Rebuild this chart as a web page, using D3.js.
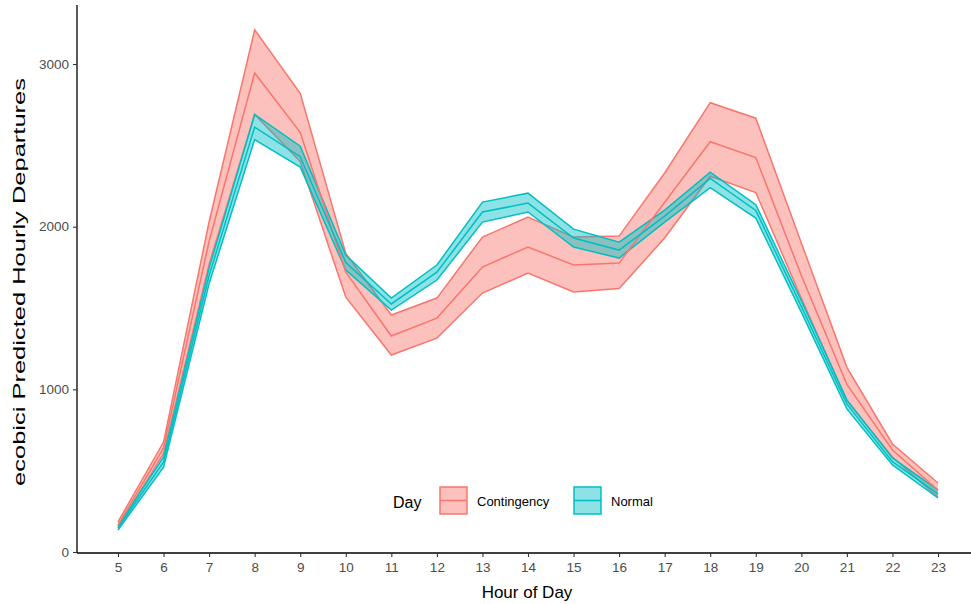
<!DOCTYPE html>
<html>
<head>
<meta charset="utf-8">
<script src="https://cdn.jsdelivr.net/npm/d3@7"></script>
<style>
  body { margin: 0; background: #fff; }
  text { font-family: "Liberation Sans", Arial, sans-serif; }
</style>
</head>
<body>
<div id="chart"></div>
<script>
var hours = [5, 6, 7, 8, 9, 10, 11, 12, 13, 14, 15, 16, 17, 18, 19, 20, 21, 22, 23];

var contLow  = [150, 605, 1770, 2690, 2400, 1567, 1211, 1315, 1592, 1715, 1598, 1620, 1930, 2310, 2210, 1560, 930, 584, 335];
var contMid  = [165, 640, 1910, 2945, 2580, 1720, 1328, 1438, 1752, 1875, 1764, 1776, 2150, 2522, 2425, 1700, 1030, 627, 380];
var contHigh = [185, 676, 2030, 3210, 2820, 1835, 1457, 1561, 1936, 2059, 1936, 1942, 2330, 2762, 2667, 1900, 1135, 664, 424];

var normLow  = [135, 522, 1650, 2535, 2366, 1733, 1487, 1672, 2028, 2090, 1875, 1807, 2028, 2240, 2053, 1475, 880, 535, 332];
var normMid  = [148, 553, 1700, 2612, 2430, 1780, 1525, 1720, 2090, 2145, 1930, 1856, 2065, 2297, 2100, 1510, 910, 555, 358];
var normHigh = [160, 584, 1745, 2690, 2495, 1825, 1561, 1764, 2151, 2206, 1985, 1905, 2102, 2335, 2135, 1545, 935, 578, 381];

var yTicks = [0, 1000, 2000, 3000];
var groups = ['Contingency', 'Normal'];
var colors = ['#F8766D', '#00BFC4'];

var width = 971, height = 604;
var svg = d3.select('#chart').append('svg')
  .attr('width', width)
  .attr('height', height);

var x = d3.scaleLinear().domain([4.1, 23.9]).range([77, 979]);
var y = d3.scaleLinear().domain([0, 3000]).range([552, 64]);

var series = [
  { name: groups[0], color: colors[0], low: contLow, mid: contMid, high: contHigh },
  { name: groups[1], color: colors[1], low: normLow, mid: normMid, high: normHigh }
];

var area = d3.area()
  .x(function(d) { return x(d.h); })
  .y0(function(d) { return y(d.lo); })
  .y1(function(d) { return y(d.hi); });

var line = d3.line()
  .x(function(d) { return x(d.h); })
  .y(function(d) { return y(d.v); });

function rows(s) {
  return hours.map(function(h, i) {
    return { h: h, lo: s.low[i], mid: s.mid[i], hi: s.high[i] };
  });
}

var plot = svg.append('g');

// ribbons with their edges
series.forEach(function(s) {
  var data = rows(s);
  plot.append('path')
    .attr('d', area(data))
    .attr('fill', s.color)
    .attr('fill-opacity', 0.45)
    .attr('stroke', 'none');
  ['lo', 'hi'].forEach(function(k) {
    plot.append('path')
      .attr('d', line(data.map(function(d) { return { h: d.h, v: d[k] }; })))
      .attr('fill', 'none')
      .attr('stroke', s.color)
      .attr('stroke-width', 1.5);
  });
});

// centre lines
series.forEach(function(s) {
  var data = rows(s);
  plot.append('path')
    .attr('d', line(data.map(function(d) { return { h: d.h, v: d.mid }; })))
    .attr('fill', 'none')
    .attr('stroke', s.color)
    .attr('stroke-width', 1.5);
});

// axes
var xAxis = svg.append('g')
  .attr('transform', 'translate(0,553)')
  .call(d3.axisBottom(x).tickValues(hours).tickSize(4).tickPadding(5).tickFormat(d3.format('d')));
var yAxis = svg.append('g')
  .attr('transform', 'translate(77,0)')
  .call(d3.axisLeft(y).tickValues(yTicks).tickSize(4).tickPadding(4).tickFormat(d3.format('d')));

xAxis.select('.domain').attr('d', 'M77,0H971').attr('stroke', '#000').attr('stroke-width', 1.3);
yAxis.select('.domain').attr('d', 'M0,5V553').attr('stroke', '#000').attr('stroke-width', 1.3);
svg.selectAll('.tick line').attr('stroke', '#333').attr('stroke-width', 1.1);
svg.selectAll('.tick text')
  .attr('fill', '#4D4D4D')
  .style('font-size', '13.5px')
  .style('font-family', '"Liberation Sans", Arial, sans-serif');

// axis titles
svg.append('text')
  .attr('x', 527)
  .attr('y', 598)
  .attr('text-anchor', 'middle')
  .style('font-size', '17px')
  .attr('fill', '#000')
  .text('Hour of Day');

// the source image is stretched vertically, so the rotated title is longer
svg.append('text')
  .attr('transform', 'translate(25,282) rotate(-90) scale(1.5,1)')
  .attr('text-anchor', 'middle')
  .style('font-size', '17px')
  .attr('fill', '#000')
  .text('ecobici Predicted Hourly Departures');

// legend
var legend = svg.append('g');
legend.append('text')
  .attr('x', 393)
  .attr('y', 508)
  .style('font-size', '16px')
  .attr('fill', '#000')
  .text('Day');

var keyX = [440, 574];
series.forEach(function(s, i) {
  var k = legend.append('g').attr('transform', 'translate(' + keyX[i] + ',487)');
  k.append('rect')
    .attr('width', 27).attr('height', 27)
    .attr('fill', s.color).attr('fill-opacity', 0.45)
    .attr('stroke', s.color).attr('stroke-width', 1.5);
  k.append('line')
    .attr('x1', 0).attr('x2', 27).attr('y1', 13.5).attr('y2', 13.5)
    .attr('stroke', s.color).attr('stroke-width', 1.5);
  legend.append('text')
    .attr('x', keyX[i] + 37)
    .attr('y', 506)
    .style('font-size', '13px')
    .attr('fill', '#000')
    .text(s.name);
});
</script>
</body>
</html>
